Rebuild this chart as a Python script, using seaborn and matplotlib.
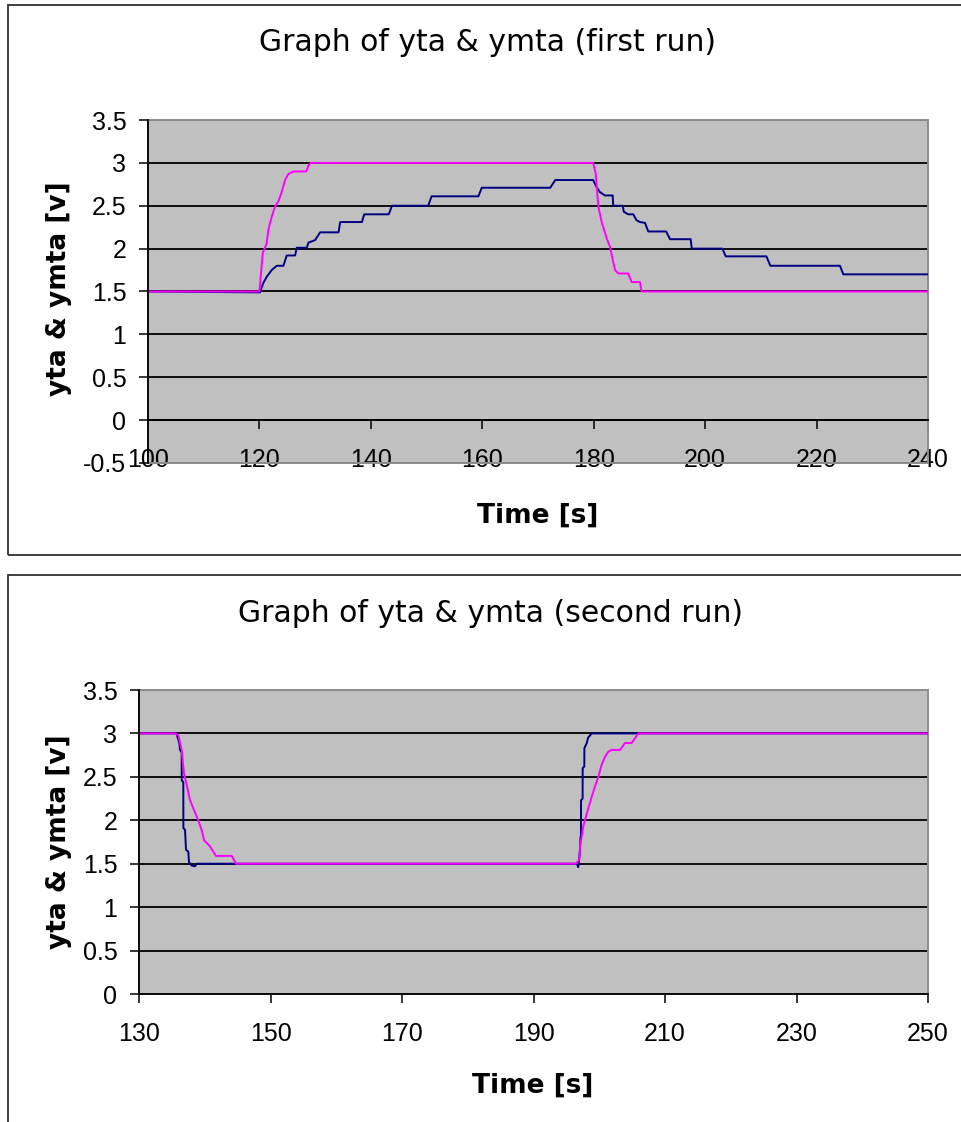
import matplotlib
matplotlib.use("Agg")
import matplotlib.pyplot as plt
import seaborn as sns
from matplotlib.patches import Rectangle

# ---------------- data ----------------
# first run
t_ymta1 = [100, 120.0, 120.6, 121.3, 121.6, 122.2, 122.8, 123.4, 124.0, 124.6, 125.2, 126.1,
           128.4, 128.8, 129.2, 179.9, 180.35, 180.83, 181.43, 182.33, 182.93, 183.41, 183.83,
           184.42, 186.2, 186.8, 188.3, 188.6, 240]
v_ymta1 = [1.5, 1.5, 1.95, 2.06, 2.22, 2.37, 2.49, 2.55, 2.66, 2.80, 2.87, 2.90,
           2.90, 2.97, 3.0, 3.0, 2.88, 2.49, 2.31, 2.12, 2.02, 1.87, 1.75,
           1.71, 1.71, 1.61, 1.61, 1.5, 1.5]

t_yta1 = [100, 120.1, 120.7, 121.3, 122.2, 123.1, 124.3, 124.9, 126.4, 126.7, 128.5, 128.8,
          130.0, 130.9, 134.2, 134.5, 138.4, 138.8, 143.2, 143.8, 150.3, 150.9, 159.3, 159.9,
          172.2, 173.1, 179.9, 180.5, 181.1, 182.0, 183.4, 183.5, 185.2, 185.4, 186.2, 187.1,
          187.7, 188.3, 189.2, 189.8, 193.0, 193.7, 197.4, 197.6, 203.1, 203.7, 211.0, 211.7,
          224.2, 224.8, 240]
v_yta1 = [1.5, 1.49, 1.6, 1.67, 1.75, 1.80, 1.80, 1.92, 1.92, 2.01, 2.01, 2.07,
          2.10, 2.19, 2.19, 2.31, 2.31, 2.40, 2.40, 2.50, 2.50, 2.61, 2.61, 2.71,
          2.71, 2.80, 2.80, 2.72, 2.66, 2.62, 2.62, 2.50, 2.50, 2.43, 2.40, 2.40,
          2.33, 2.31, 2.30, 2.20, 2.20, 2.11, 2.11, 2.00, 2.00, 1.91, 1.91, 1.80,
          1.80, 1.70, 1.70]

# second run
t_ymta2 = [130, 135.5, 136.0, 136.24, 136.49, 136.84, 137.25, 137.76, 138.36, 139.0, 139.53,
           139.89, 140.8, 141.7, 144.1, 144.75, 196.46, 196.97, 197.07, 197.33, 197.57, 197.83,
           198.34, 198.85, 199.35, 199.86, 200.37, 200.87, 201.38, 201.89, 203.16, 203.91,
           204.93, 205.94, 250]
v_ymta2 = [3.0, 3.0, 2.98, 2.89, 2.81, 2.54, 2.41, 2.23, 2.12, 2.0, 1.89,
           1.77, 1.70, 1.59, 1.59, 1.5, 1.5, 1.55, 1.70, 1.81, 1.93, 2.0,
           2.14, 2.27, 2.39, 2.50, 2.64, 2.73, 2.79, 2.81, 2.81, 2.89,
           2.89, 3.0, 3.0]

t_yta2 = [130, 135.7, 136.13, 136.24, 136.49, 136.5, 136.74, 136.75, 137.0, 137.15, 137.5,
          137.6, 138.0, 138.5, 138.8, 196.6, 196.8, 196.97, 197.07, 197.15, 197.22, 197.23,
          197.47, 197.48, 197.73, 197.74, 198.1, 198.3, 198.85, 250]
v_yta2 = [3.0, 3.0, 2.89, 2.81, 2.78, 2.46, 2.44, 1.91, 1.89, 1.66, 1.64,
          1.52, 1.48, 1.47, 1.5, 1.5, 1.46, 1.57, 1.66, 1.81, 1.81, 2.23,
          2.25, 2.60, 2.62, 2.83, 2.89, 2.95, 3.0, 3.0]

titles = ["Graph of yta & ymta (first run)", "Graph of yta & ymta (second run)"]
xlabel = "Time [s]"
ylabel = "yta & ymta [v]"
xticks1 = [100, 120, 140, 160, 180, 200, 220, 240]
yticks1 = [-0.5, 0, 0.5, 1, 1.5, 2, 2.5, 3, 3.5]
xticks2 = [130, 150, 170, 190, 210, 230, 250]
yticks2 = [0, 0.5, 1, 1.5, 2, 2.5, 3, 3.5]

# ---------------- figure ----------------
sns.set_style("white")
plt.rcParams["font.family"] = ["Liberation Sans", "DejaVu Sans"]
plt.rcParams["axes.unicode_minus"] = False

W, H = 961, 1122
fig = plt.figure(figsize=(W / 100, H / 100), dpi=100)
fig.patch.set_facecolor("white")


def fx(px):
    return px / W


def fy(py):
    return 1 - py / H


# chart frames
for (x0, y0, x1, y1) in [(8, 5, 963, 555), (8, 575, 963, 1126)]:
    fig.patches.append(Rectangle((fx(x0), fy(y1)), fx(x1) - fx(x0), fy(y0) - fy(y1),
                                 transform=fig.transFigure, fill=False,
                                 edgecolor="#303030", lw=1.3, zorder=0))

ax1 = fig.add_axes([fx(148), fy(463), fx(928) - fx(148), fy(120) - fy(463)])
ax2 = fig.add_axes([fx(139), fy(994), fx(928) - fx(139), fy(690) - fy(994)])

BLUE = "#000080"
MAGENTA = "#FF00FF"


def style(ax, xlim, xticks, ylim, yticks):
    ax.set_facecolor("#C0C0C0")
    ax.set_xlim(*xlim)
    ax.set_ylim(*ylim)
    ax.set_xticks(xticks)
    ax.set_xticklabels([f"{v:g}" for v in xticks])
    ax.set_yticks(yticks)
    ax.set_yticklabels([f"{v:g}" for v in yticks])
    ax.grid(False)
    ax.yaxis.grid(True, color="black", lw=1.3)
    ax.set_axisbelow(True)
    for s in ["top", "right"]:
        ax.spines[s].set_visible(False)
    for s in ["left", "bottom"]:
        ax.spines[s].set_visible(True)
        ax.spines[s].set_color("black")
        ax.spines[s].set_linewidth(1.3)
    ax.spines["bottom"].set_position(("data", 0))
    ax.add_patch(Rectangle((0, 0), 1, 1, transform=ax.transAxes, fill=False,
                           edgecolor="#8C8C8C", lw=1.4, zorder=1.5, clip_on=False))
    ax.tick_params(axis="both", which="major", direction="out", length=6.5, width=1.1,
                   color="black", labelsize=18, labelcolor="black",
                   bottom=True, left=True)
    ax.tick_params(axis="x", pad=13.7)
    ax.tick_params(axis="y", pad=9)
    ax.set_xlabel("")
    ax.set_ylabel("")


sns.lineplot(x=t_yta1, y=v_yta1, ax=ax1, color=BLUE, lw=1.4, estimator=None, sort=False)
sns.lineplot(x=t_ymta1, y=v_ymta1, ax=ax1, color=MAGENTA, lw=1.4, estimator=None, sort=False)
sns.lineplot(x=t_yta2, y=v_yta2, ax=ax2, color=BLUE, lw=1.4, estimator=None, sort=False)
sns.lineplot(x=t_ymta2, y=v_ymta2, ax=ax2, color=MAGENTA, lw=1.4, estimator=None, sort=False)

style(ax1, (100, 240), xticks1, (-0.5, 3.5), yticks1)
style(ax2, (130, 250), xticks2, (0, 3.5), yticks2)

# texts
fig.text(fx(488), fy(51), titles[0], ha="center", va="baseline",
         fontsize=21.5, family="DejaVu Sans", color="black")
fig.text(fx(490), fy(622), titles[1], ha="center", va="baseline",
         fontsize=21.5, family="DejaVu Sans", color="black")
fig.text(fx(538), fy(523), xlabel, ha="center", va="baseline",
         fontsize=19, fontweight="bold", family="DejaVu Sans", color="black")
fig.text(fx(533), fy(1093), xlabel, ha="center", va="baseline",
         fontsize=19, fontweight="bold", family="DejaVu Sans", color="black")
fig.text(fx(59), fy(289), ylabel, ha="center", va="center", rotation=90,
         fontsize=19, fontweight="bold", family="DejaVu Sans", color="black")
fig.text(fx(59), fy(842), ylabel, ha="center", va="center", rotation=90,
         fontsize=19, fontweight="bold", family="DejaVu Sans", color="black")

fig.savefig("out.png", dpi=100, facecolor="white")
